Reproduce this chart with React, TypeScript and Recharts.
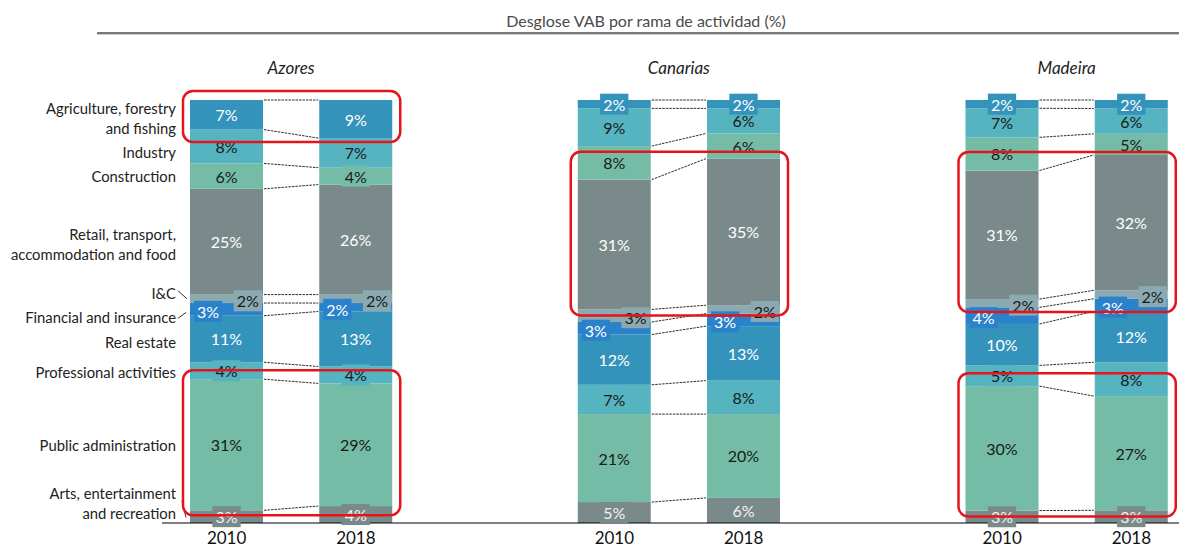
import React from "react";
import { BarChart, Bar, XAxis, YAxis, LabelList } from "recharts";

const chartTitle = "Desglose VAB por rama de actividad (%)";
const groups = ["Azores", "Canarias", "Madeira"];
const years = ["2010", "2018"];

// values per bar: Azores 2010, Azores 2018, Canarias 2010, Canarias 2018, Madeira 2010, Madeira 2018
const arts = [3, 4, 5, 6, 3, 3];
const publicAdmin = [31, 29, 21, 20, 30, 27];
const professional = [4, 4, 7, 8, 5, 8];
const realEstate = [11, 13, 12, 13, 10, 12];
const financial = [3, 2, 3, 3, 4, 3];
const infoComm = [2, 2, 3, 2, 2, 2];
const retail = [25, 26, 31, 35, 31, 32];
const construction = [6, 4, 8, 6, 8, 5];
const industry = [8, 7, 9, 6, 7, 6];
const agriculture = [7, 9, 2, 2, 2, 2];

const sectorKeys = [
  "arts",
  "publicAdmin",
  "professional",
  "realEstate",
  "financial",
  "infoComm",
  "retail",
  "construction",
  "industry",
  "agriculture",
];

const sectorValues: Record<string, number[]> = {
  arts,
  publicAdmin,
  professional,
  realEstate,
  financial,
  infoComm,
  retail,
  construction,
  industry,
  agriculture,
};

const sectorNames: Record<string, string[]> = {
  arts: ["Arts, entertainment", "and recreation"],
  publicAdmin: ["Public administration"],
  professional: ["Professional activities"],
  realEstate: ["Real estate"],
  financial: ["Financial and insurance"],
  infoComm: ["I&C"],
  retail: ["Retail, transport,", "accommodation and food"],
  construction: ["Construction"],
  industry: ["Industry"],
  agriculture: ["Agriculture, forestry", "and fishing"],
};

const colors: Record<string, string> = {
  arts: "#7A8A8B",
  publicAdmin: "#74BCA6",
  professional: "#55B4BF",
  realEstate: "#3493BB",
  financial: "#2A82CA",
  infoComm: "#8AA9B1",
  retail: "#7A8A8B",
  construction: "#74BCA6",
  industry: "#55B4BF",
  agriculture: "#3493BB",
};

const labelColors: Record<string, string> = {
  arts: "#F2F2F2",
  publicAdmin: "#1A1A1A",
  professional: "#1A1A1A",
  realEstate: "#FFFFFF",
  financial: "#FFFFFF",
  infoComm: "#1A1A1A",
  retail: "#FFFFFF",
  construction: "#1A1A1A",
  industry: "#1A1A1A",
  agriculture: "#FFFFFF",
};

const labelAlign: Record<string, string> = {
  financial: "left",
  infoComm: "right",
};

// vertical nudge of the left-hand sector names relative to their segment centre
const nameNudge: Record<string, number> = {
  arts: -14,
  publicAdmin: 0,
  professional: 1,
  realEstate: 3,
  financial: 8,
  infoComm: -6,
  retail: 2,
  construction: 0,
  industry: 5,
  agriculture: 3,
};

const highlights = [
  { group: "Azores", key: "agriculture", padTop: 9, padBottom: 4 },
  { group: "Azores", key: "publicAdmin", padTop: 9, padBottom: 5 },
  { group: "Canarias", key: "retail", padTop: 7, padBottom: 6 },
  { group: "Madeira", key: "retail", padTop: 3, padBottom: 13 },
  { group: "Madeira", key: "publicAdmin", padTop: 13, padBottom: 6 },
];

type Row = Record<string, any>;
const rows: Row[] = [];
groups.forEach((g, gi) => {
  years.forEach((yr, yi) => {
    const row: Row = { cat: `${g} ${yr}`, group: g, year: yr };
    sectorKeys.forEach((k) => {
      row[k] = sectorValues[k][gi * 2 + yi];
    });
    rows.push(row);
  });
  if (gi < groups.length - 1) rows.push({ cat: `gap${gi}`, group: "", year: "" });
});

const FONT = "Lato, 'Open Sans', sans-serif";
const rects: Record<string, { x: number; y: number; width: number; height: number }> = {};

function makeShape(k: string) {
  return (props: any) => {
    const { x, y, width, height, payload } = props;
    if (!payload || !payload.year || !(height > 0)) return <g />;
    rects[`${k}|${payload.cat}`] = { x, y, width, height };
    const parts: any[] = [
      <rect key="r" x={x} y={y} width={width} height={height} fill={colors[k]} />,
    ];
    if (payload.year === years[1]) {
      const prev = rects[`${k}|${payload.group} ${years[0]}`];
      if (prev) {
        parts.push(
          <line
            key="c"
            x1={prev.x + prev.width + 1}
            y1={prev.y}
            x2={x - 1}
            y2={y}
            stroke="#2b2b2b"
            strokeWidth={1}
            strokeDasharray="2.5 1"
          />
        );
      }
    }
    if (payload.cat === `${groups[0]} ${years[0]}`) {
      const lines = sectorNames[k];
      const cy = y + height / 2 + nameNudge[k];
      const tx = x - 14;
      lines.forEach((ln, i) => {
        const ly = cy + (i - (lines.length - 1) / 2) * 20;
        parts.push(
          <text
            key={`n${i}`}
            x={tx}
            y={ly}
            textAnchor="end"
            dominantBaseline="central"
            fontFamily={FONT}
            fontSize={14.8}
            fill="#222"
          >
            {ln}
          </text>
        );
      });
      const segMid = y + height / 2;
      if (k === "infoComm") {
        parts.push(<line key="l" x1={x - 12} y1={cy - 2} x2={x - 3} y2={segMid} stroke="#333" strokeWidth={1} />);
      }
      if (k === "financial") {
        parts.push(<line key="l" x1={x - 12} y1={cy + 1} x2={x - 4} y2={cy - 5} stroke="#333" strokeWidth={1} />);
      }
      if (k === "arts") {
        parts.push(<line key="l" x1={x - 8} y1={cy - 2} x2={x - 4} y2={segMid + 1} stroke="#333" strokeWidth={1} />);
      }
    }
    return <g>{parts}</g>;
  };
}

function Overlays() {
  const out: any[] = [];
  groups.forEach((g) => {
    const a = rects[`agriculture|${g} ${years[0]}`];
    const b = rects[`agriculture|${g} ${years[1]}`];
    if (!a || !b) return;
    out.push(
      <text
        key={`t${g}`}
        x={(a.x + b.x + b.width) / 2}
        y={Math.min(a.y, b.y) - 33}
        textAnchor="middle"
        dominantBaseline="central"
        fontFamily={FONT}
        fontStyle="italic"
        fontSize={17}
        fill="#222"
      >
        {g}
      </text>
    );
  });
  highlights.forEach((h, i) => {
    const a = rects[`${h.key}|${h.group} ${years[0]}`];
    const b = rects[`${h.key}|${h.group} ${years[1]}`];
    if (!a || !b) return;
    const top = Math.min(a.y, b.y) - h.padTop;
    const bottom = Math.max(a.y + a.height, b.y + b.height) + h.padBottom;
    const left = a.x - 7;
    const right = b.x + b.width + 8;
    out.push(
      <rect
        key={`h${i}`}
        x={left}
        y={top}
        width={right - left}
        height={bottom - top}
        rx={10}
        ry={10}
        fill="none"
        stroke="#E5141B"
        strokeWidth={2.5}
      />
    );
  });
  return <g>{out}</g>;
}

function makeLabel(k: string) {
  return (props: any) => {
    const { x, y, width, height, value } = props;
    if (value == null || value === 0 || !(width > 0)) return null;
    const txt = `${value}%`;
    const tw = (txt.length - 1) * 9.3 + 13;
    const bw = tw + 6;
    const bh = 21;
    const align = labelAlign[k] || "center";
    let cx = x + width / 2;
    if (align === "left") cx = x + 4 + bw / 2;
    if (align === "right") cx = x + width - 1 - bw / 2;
    const cy = y + height / 2 + (align === "center" ? 0 : 2);
    const last = rects[`agriculture|${groups[groups.length - 1]} ${years[1]}`];
    const isLast = k === "agriculture" && last && Math.abs(last.x - x) < 0.5;
    return (
      <g>
        <rect x={cx - bw / 2} y={cy - bh / 2} width={bw} height={bh} fill={colors[k]} />
        <text
          x={cx}
          y={cy}
          textAnchor="middle"
          dominantBaseline="central"
          fontFamily={FONT}
          fontSize={16}
          fill={labelColors[k]}
        >
          {txt}
        </text>
        {isLast ? <Overlays /> : null}
      </g>
    );
  };
}

function YearTick(props: any) {
  const { x, y, payload } = props;
  const row = rows.find((r) => r.cat === payload.value);
  if (!row || !row.year) return <g />;
  return (
    <text x={x} y={y + 6} textAnchor="middle" dominantBaseline="central" fontFamily={FONT} fontSize={17} fill="#111">
      {row.year}
    </text>
  );
}

export default function App() {
  return (
    <div style={{ position: "relative", width: 1179, height: 538, overflowX: "clip", overflowY: "visible" } as any}>
      <div
        style={{
          position: "absolute",
          left: 638,
          top: 3,
          transform: "translateX(-50%)",
          fontFamily: FONT,
          fontSize: 16,
          color: "#4a4a4a",
          whiteSpace: "nowrap",
          zIndex: 2,
        }}
      >
        {chartTitle}
      </div>
      <div style={{ position: "absolute", left: 89, top: 24, width: 1100, height: 2, background: "#7a7a7a", zIndex: 2 }} />
      <div style={{ position: "absolute", left: 89, top: 26, width: 1100, height: 1, background: "#c8c8c8", zIndex: 2 }} />
      <BarChart
        width={1188}
        height={538}
        data={rows}
        stackOffset="expand"
        margin={{ top: 92, right: 0, left: 154, bottom: 1 }}
        barSize={73}
        style={{ overflow: "visible" }}
      >
        <XAxis
          dataKey="cat"
          height={22}
          interval={0}
          tickLine={false}
          axisLine={{ stroke: "#000", strokeWidth: 1 }}
          tick={<YearTick />}
        />
        <YAxis hide domain={[0, 1]} />
        {sectorKeys.map((k) => (
          <Bar key={k} dataKey={k} stackId="s" fill={colors[k]} isAnimationActive={false} shape={makeShape(k)}>
            <LabelList dataKey={k} content={makeLabel(k)} />
          </Bar>
        ))}
      </BarChart>
    </div>
  );
}
